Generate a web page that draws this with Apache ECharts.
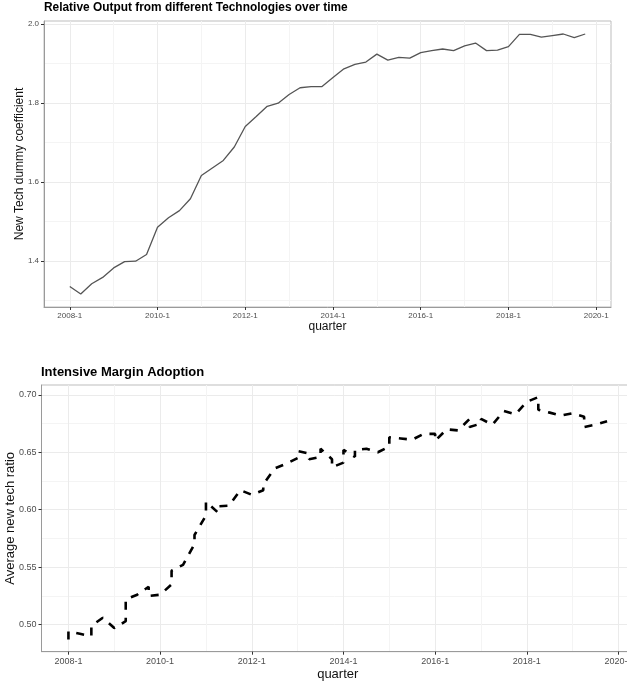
<!DOCTYPE html>
<html><head><meta charset="utf-8">
<script src="https://cdn.jsdelivr.net/npm/echarts@6/dist/echarts.min.js"></script>
<style>html,body{margin:0;padding:0;background:#fff}#c{width:627px;height:685px}</style>
</head><body><div id="c"></div>
<script>
// Axis sequence of quarters (2008-1 .. 2020-1)
const axisQuarters = ['2008-1','2008-2','2008-3','2008-4','2009-1','2009-2','2009-3','2009-4',
  '2010-1','2010-2','2010-3','2010-4','2011-1','2011-2','2011-3','2011-4',
  '2012-1','2012-2','2012-3','2012-4','2013-1','2013-2','2013-3','2013-4',
  '2014-1','2014-2','2014-3','2014-4','2015-1','2015-2','2015-3','2015-4',
  '2016-1','2016-2','2016-3','2016-4','2017-1','2017-2','2017-3','2017-4',
  '2018-1','2018-2','2018-3','2018-4','2019-1','2019-2','2019-3','2019-4','2020-1'];
const tickLabels = ['2008-1','2010-1','2012-1','2014-1','2016-1','2018-1','2020-1'];
const minorBreaks = ['2009-1','2011-1','2013-1','2015-1','2017-1','2019-1'];

// Top chart: relative output (one value per quarter, 2008-1 .. 2019-4)
const outputQuarters = axisQuarters.slice(0, 48);
const outputValues = [1.336,1.317,1.343,1.359,1.383,1.399,1.400,1.417,1.486,1.510,1.528,1.558,
  1.617,1.636,1.655,1.689,1.741,1.766,1.792,1.800,1.822,1.839,1.842,1.842,
  1.865,1.887,1.898,1.904,1.924,1.909,1.916,1.914,1.928,1.933,1.937,1.933,
  1.945,1.952,1.933,1.934,1.943,1.974,1.974,1.967,1.971,1.975,1.966,1.975];
const outputTicks = [1.4,1.6,1.8,2.0];
const outputMinor = [1.3,1.5,1.7,1.9];

// Bottom chart: intensive margin adoption (some quarters have two rows)
const adoptionQuarter = ['2008-1','2008-1','2008-2','2008-3','2008-3','2008-4','2009-1','2009-2','2009-2','2009-3',
  '2009-4','2009-4','2010-1','2010-2','2010-2','2010-3','2010-4','2010-4','2011-1','2011-1','2011-2','2011-2',
  '2011-3','2011-4','2012-1','2012-2','2012-2','2012-3','2012-4','2013-1','2013-1','2013-2','2013-2',
  '2013-3','2013-3','2013-4','2013-4','2014-1','2014-1','2014-2','2014-2','2014-3','2014-4','2015-1','2015-1',
  '2015-2','2015-3','2015-4','2016-1','2016-1','2016-2','2016-3','2016-4','2016-4','2017-1','2017-1','2017-2',
  '2017-3','2017-4','2018-1','2018-2','2018-2','2018-3','2018-4','2019-1','2019-2','2019-2','2019-3','2019-4'];
const adoptionValue = [0.487,0.494,0.492,0.490,0.499,0.506,0.497,0.503,0.522,0.526,
  0.533,0.525,0.526,0.535,0.547,0.552,0.570,0.578,0.595,0.607,0.598,0.603,
  0.6035,0.617,0.613,0.617,0.622,0.636,0.640,0.645,0.651,0.649,0.644,
  0.646,0.653,0.644,0.637,0.641,0.652,0.646,0.652,0.653,0.650,0.655,0.663,
  0.662,0.661,0.666,0.666,0.660,0.670,0.669,0.679,0.672,0.675,0.679,0.674,
  0.686,0.683,0.694,0.698,0.687,0.6845,0.682,0.684,0.681,0.672,0.674,0.677];
const adoptionTicks = [0.50,0.55,0.60,0.65,0.70];
const adoptionMinor = [0.525,0.575,0.625,0.675];

const qi = q => axisQuarters.indexOf(q);
const FONT = '"Liberation Sans", Arial, sans-serif';

function expand(vals){ const mn=Math.min(...vals), mx=Math.max(...vals), d=(mx-mn)*0.05; return [mn-d, mx+d]; }
const xExt = expand([qi(outputQuarters[0]), qi(outputQuarters[outputQuarters.length-1])]);
const yTopExt = expand(outputValues);
const yBotExt = expand(adoptionValue);

function xAxes(gridIndex, fs, nameGap, nameFs){
  return [{
    type:'value', gridIndex, min:xExt[0], max:xExt[1],
    name:'quarter', nameLocation:'middle', nameGap, nameMoveOverlap:false,
    nameTextStyle:{fontFamily:FONT, fontSize:nameFs, color:'#111'},
    axisLine:{show:true, onZero:false, lineStyle:{color:'#9a9a9a', width:1}},
    axisTick:{show:true, length:3, lineStyle:{color:'#333'}, customValues: tickLabels.map(qi)},
    axisLabel:{show:true, margin:5, fontFamily:FONT, fontSize:fs, color:'#4d4d4d',
      customValues: tickLabels.map(qi), formatter: v => axisQuarters[Math.round(v)]},
    splitLine:{show:true, lineStyle:{color:'#ebebeb', width:1}}
  },{
    type:'value', gridIndex, min:xExt[0], max:xExt[1],
    axisLine:{show:false}, axisLabel:{show:false},
    axisTick:{show:false, customValues: minorBreaks.map(qi)},
    splitLine:{show:true, lineStyle:{color:'#f4f4f4', width:1}}
  }];
}
function yAxes(gridIndex, ext, ticks, minor, dec, fs, name, nameGap, nameFs){
  return [{
    type:'value', gridIndex, min:ext[0], max:ext[1],
    name, nameLocation:'middle', nameGap, nameMoveOverlap:false,
    nameTextStyle:{fontFamily:FONT, fontSize:nameFs, color:'#111'},
    axisLine:{show:true, onZero:false, lineStyle:{color:'#9a9a9a', width:1}},
    axisTick:{show:true, length:3, lineStyle:{color:'#333'}, customValues: ticks},
    axisLabel:{show:true, margin:5, fontFamily:FONT, fontSize:fs, color:'#4d4d4d',
      customValues: ticks, formatter: v => v.toFixed(dec)},
    splitLine:{show:true, lineStyle:{color:'#ebebeb', width:1}}
  },{
    type:'value', gridIndex, min:ext[0], max:ext[1],
    axisLine:{show:false}, axisLabel:{show:false},
    axisTick:{show:false, customValues: minor},
    splitLine:{show:true, lineStyle:{color:'#f4f4f4', width:1}}
  }];
}

const option = {
  animation:false,
  backgroundColor:'#fff',
  title:[
    {text:'Relative Output from different Technologies over time', left:44, top:2, padding:0,
     textStyle:{fontFamily:FONT, fontSize:11.9, fontWeight:'bold', color:'#000'}},
    {text:'Intensive Margin Adoption', left:41, top:366, padding:0,
     textStyle:{fontFamily:FONT, fontSize:13, fontWeight:'bold', color:'#000'}}
  ],
  grid:[
    {left:44, top:21, width:567, height:286, show:true, borderColor:'#bdbdbd', borderWidth:1,
     containLabel:false, outerBoundsMode:'none'},
    {left:41.5, top:385, width:592.5, height:266.7, show:true, borderColor:'#bdbdbd', borderWidth:1,
     containLabel:false, outerBoundsMode:'none'}
  ],
  xAxis:[...xAxes(0, 8, 14, 12), ...xAxes(1, 9, 16, 13)],
  yAxis:[...yAxes(0, yTopExt, outputTicks, outputMinor, 1, 8, 'New Tech dummy coefficient', 18.5, 12),
         ...yAxes(1, yBotExt, adoptionTicks, adoptionMinor, 2, 9, 'Average new tech ratio', 25, 13)],
  series:[
    {type:'line', xAxisIndex:0, yAxisIndex:0, showSymbol:false, symbol:'none',
     data: outputValues.map((v,i)=>[qi(outputQuarters[i]), v]),
     lineStyle:{color:'#555', width:1.3}},
    {type:'line', xAxisIndex:2, yAxisIndex:2, showSymbol:false, symbol:'none',
     data: adoptionValue.map((v,k)=>[qi(adoptionQuarter[k]), v]),
     lineStyle:{color:'#000', width:2.6, type:[8,8]}}
  ]
};
echarts.init(document.getElementById('c'), null, {renderer:'canvas'}).setOption(option);
</script></body></html>
